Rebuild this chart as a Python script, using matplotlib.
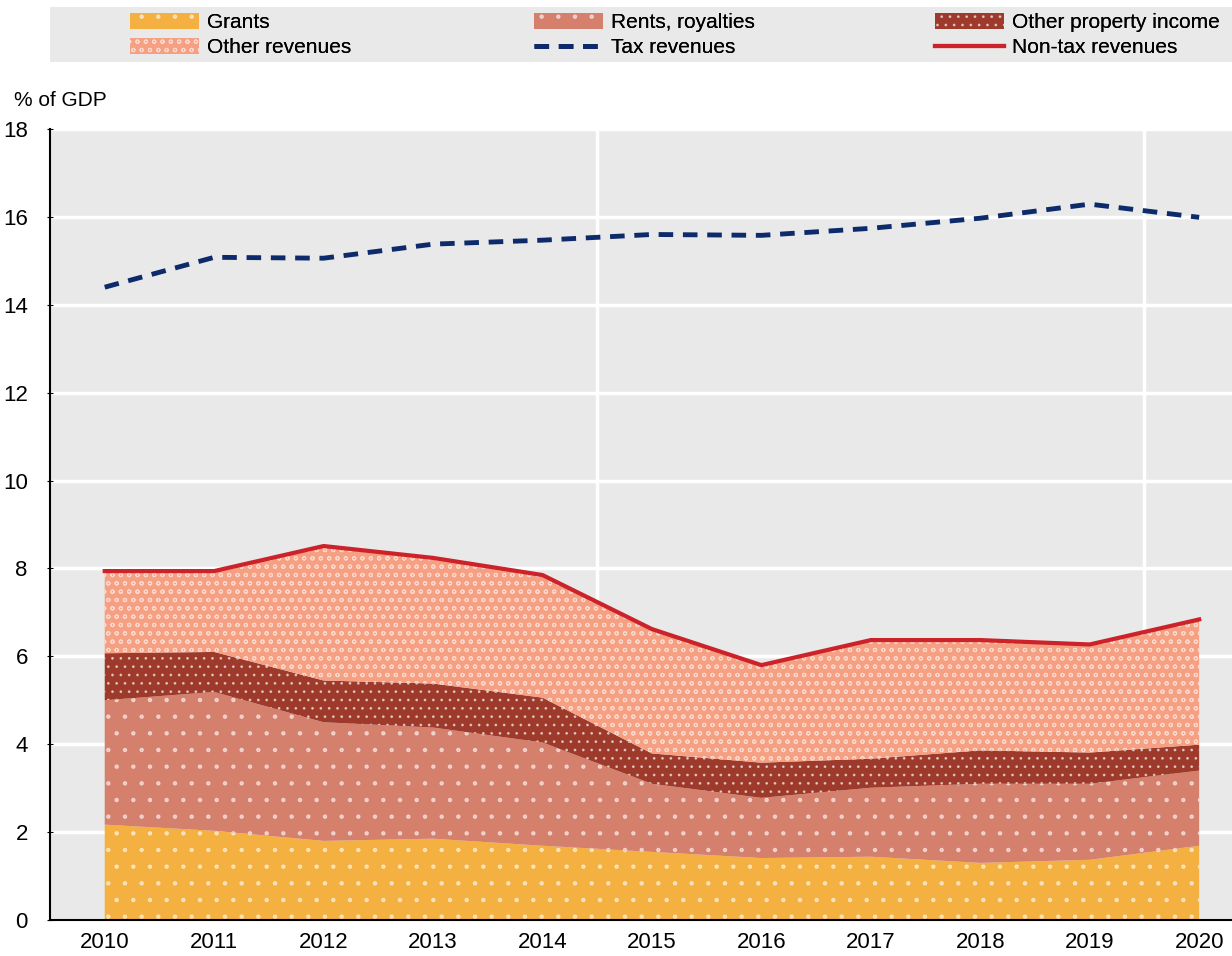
import matplotlib
matplotlib.use('Agg')
import matplotlib.pyplot as plt
from matplotlib.patches import Patch, Rectangle
from matplotlib.lines import Line2D

years = [2010, 2011, 2012, 2013, 2014, 2015, 2016, 2017, 2018, 2019, 2020]
grants = [2.17, 2.03, 1.80, 1.85, 1.69, 1.55, 1.41, 1.44, 1.30, 1.37, 1.69]
rents = [2.83, 3.16, 2.70, 2.53, 2.35, 1.55, 1.37, 1.57, 1.80, 1.73, 1.71]
other_property = [1.07, 0.91, 0.95, 1.00, 1.02, 0.69, 0.80, 0.66, 0.76, 0.71, 0.59]
other_revenues = [1.87, 1.84, 3.06, 2.86, 2.79, 2.83, 2.22, 2.70, 2.51, 2.46, 2.85]
tax_revenues = [14.40, 15.08, 15.06, 15.38, 15.47, 15.60, 15.58, 15.74, 15.97, 16.29, 15.99]
nontax_revenues = [7.94, 7.94, 8.51, 8.24, 7.85, 6.62, 5.80, 6.37, 6.37, 6.27, 6.84]

c_grants = '#f4b040'
c_rents = '#d5806d'
c_prop = '#9e3a2c'
c_other = '#f6a083'
c_tax = '#0d2a6a'
c_nontax = '#cc2229'
bg = '#e9e9e9'

plt.rcParams['font.family'] = ['Liberation Sans', 'DejaVu Sans']
plt.rcParams['hatch.linewidth'] = 0.8

fig = plt.figure(figsize=(12.32, 9.56), dpi=100)
ax = fig.add_axes([50 / 1232, 1 - 920 / 956, 1 - 50 / 1232, (920 - 129) / 956])
ax.set_facecolor(bg)

hatch_col = (1, 1, 1, 0.55)
# stacked areas
layers = [(grants, c_grants, '.'), (rents, c_rents, '.'),
          (other_property, c_prop, '..'), (other_revenues, c_other, 'oo')]
base = [0.0] * len(years)
for vals, col, h in layers:
    top = [b + v for b, v in zip(base, vals)]
    ax.fill_between(years, base, top, facecolor=col, edgecolor=hatch_col,
                    hatch=h, linewidth=0, zorder=2)
    base = top

ax.plot(years, nontax_revenues, color=c_nontax, lw=3, zorder=4)
ax.plot(years, tax_revenues, color=c_tax, lw=3.5, ls=(0, (3, 2)), zorder=4)

ax.set_xlim(2009.5, 2020.3)
ax.set_ylim(0, 18)
ax.set_yticks(range(0, 19, 2))
ax.set_xticks(years)
ax.tick_params(axis='x', length=0, labelsize=16, pad=9)
ax.tick_params(axis='y', length=4, direction='inout', labelsize=16, pad=14)
ax.set_xticks([2014.5, 2019.5], minor=True)
ax.tick_params(axis='x', which='minor', length=6, direction='in', color='black')
ax.grid(axis='y', color='white', lw=2.5, zorder=1)
ax.grid(axis='x', which='minor', color='white', lw=2.5, zorder=1)
ax.set_axisbelow(True)
for s in ['top', 'right']:
    ax.spines[s].set_visible(False)
for s in ['left', 'bottom']:
    ax.spines[s].set_linewidth(1.5)
    ax.spines[s].set_color('black')
    ax.spines[s].set_zorder(5)

fig.text(14 / 1232, 1 - 100 / 956, '% of GDP', fontsize=15, va='center', ha='left')

# legend: grey band with three columns
fig.patches.append(Rectangle((50 / 1232, 1 - 62 / 956), 1 - 50 / 1232, 55 / 956,
                             transform=fig.transFigure, facecolor=bg,
                             edgecolor='none', zorder=0))
h_grants = Patch(facecolor=c_grants, edgecolor=hatch_col, hatch='.', lw=0)
h_rents = Patch(facecolor=c_rents, edgecolor=hatch_col, hatch='.', lw=0)
h_prop = Patch(facecolor=c_prop, edgecolor=hatch_col, hatch='..', lw=0)
h_other = Patch(facecolor=c_other, edgecolor=hatch_col, hatch='oo', lw=0)
h_tax = Line2D([], [], color=c_tax, lw=3.5, ls=(0, (3, 2)))
h_nontax = Line2D([], [], color=c_nontax, lw=3)
columns = [
    (130, [h_grants, h_other], ['Grants', 'Other revenues']),
    (534, [h_rents, h_tax], ['Rents, royalties', 'Tax revenues']),
    (935, [h_prop, h_nontax], ['Other property income', 'Non-tax revenues']),
]
for x0, hs, ls in columns:
    leg = fig.legend(hs, ls, loc='center left',
                     bbox_to_anchor=(x0 / 1232, 1 - 35 / 956),
                     frameon=False, fontsize=15, handlelength=3.3,
                     handleheight=0.8, handletextpad=0.4, labelspacing=0.3,
                     borderpad=0, borderaxespad=0)
    fig.add_artist(leg)

fig.savefig('out.png', dpi=100, facecolor='white')
